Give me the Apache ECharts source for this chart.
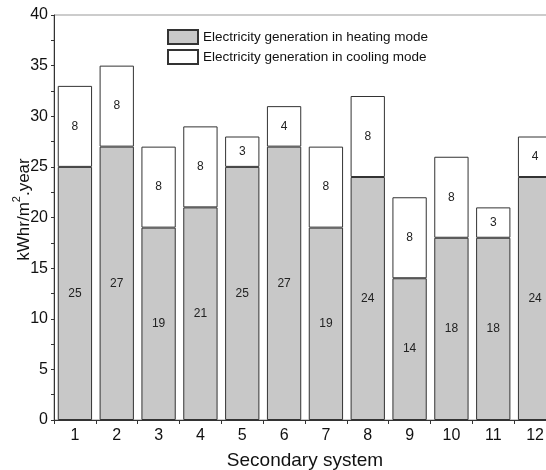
<!DOCTYPE html>
<html><head><meta charset="utf-8">
<script src="https://cdn.jsdelivr.net/npm/echarts@6/dist/echarts.min.js"></script>
<style>html,body{margin:0;padding:0;background:#fff;overflow:hidden;}#c{width:546px;height:470px;}</style>
</head><body><div id="c"></div>
<script>
const categories = ['1','2','3','4','5','6','7','8','9','10','11','12'];
const heating = [25,27,19,21,25,27,19,24,14,18,18,24];
const cooling = [8,8,8,8,3,4,8,8,8,8,3,4];
const yTicks = {min:0, max:40, interval:5};
const seriesNames = ['Electricity generation in heating mode','Electricity generation in cooling mode'];

const font = 'Liberation Sans, Arial, sans-serif';
const chart = echarts.init(document.getElementById('c'), null, {renderer:'canvas'});
const lbl = {show:true, position:'inside', color:'#222', fontFamily:font, fontSize:12};
chart.setOption({
  animation:false,
  backgroundColor:'#fff',
  grid:{left:54, right:-10, top:15, bottom:50, outerBoundsMode:'none', containLabel:false,
        show:true, borderColor:'#999', borderWidth:1, backgroundColor:'#fff'},
  legend:{
    left:167, top:29, padding:0, orient:'vertical', itemWidth:30, itemHeight:14, itemGap:4,
    icon:'rect',
    textStyle:{fontFamily:font, fontSize:13.5, color:'#111'},
    data:seriesNames
  },
  xAxis:{
    type:'category', data:categories,
    name:'Secondary system', nameLocation:'middle', nameGap:31,
    nameTextStyle:{fontFamily:font, fontSize:19, color:'#111'},
    axisLine:{lineStyle:{color:'#333', width:1}},
    axisTick:{show:true, length:4, lineStyle:{color:'#333'}},
    axisLabel:{fontFamily:font, fontSize:16, color:'#111', margin:8},
    splitLine:{show:false}
  },
  yAxis:{
    type:'value', min:yTicks.min, max:yTicks.max, interval:yTicks.interval,
    name:'{a|kWhr/m}{s|2}{a|.year}', nameLocation:'middle', nameGap:21, nameMoveOverlap:false,
    nameTextStyle:{fontFamily:font, fontSize:17, color:'#111', padding:[0,0,0,16],
      rich:{
        a:{fontFamily:font, fontSize:17, color:'#111', lineHeight:22, verticalAlign:'bottom'},
        s:{fontFamily:font, fontSize:11, color:'#111', lineHeight:22, verticalAlign:'top'}
      }},
    axisLine:{show:true, lineStyle:{color:'#333', width:1}},
    axisTick:{show:true, length:3, lineStyle:{color:'#333'}},
    minorTick:{show:true, splitNumber:2, length:3, lineStyle:{color:'#333'}},
    axisLabel:{fontFamily:font, fontSize:16, color:'#111', margin:6},
    splitLine:{show:false}
  },
  series:[
    {name:seriesNames[0], type:'bar', stack:'t', data:heating, barWidth:'82%',
     itemStyle:{color:'#c8c8c8', borderColor:'#333', borderWidth:1}, label:lbl},
    {name:seriesNames[1], type:'bar', stack:'t', data:cooling, barWidth:'82%',
     itemStyle:{color:'#fff', borderColor:'#333', borderWidth:1}, label:lbl}
  ]
});
</script></body></html>
